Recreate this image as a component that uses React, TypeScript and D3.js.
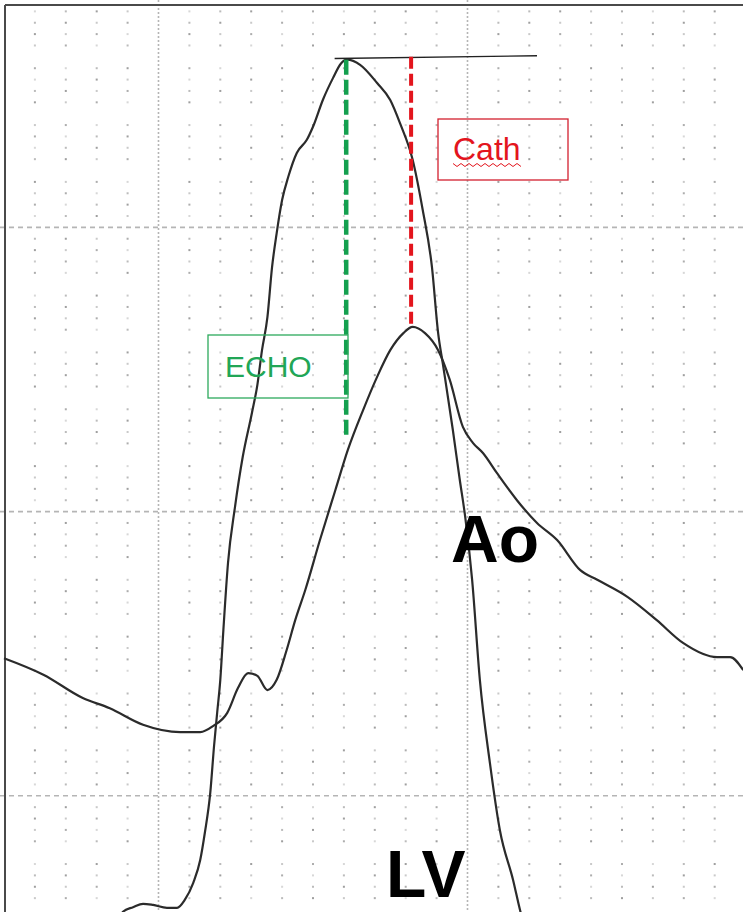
import React from "react";
import * as d3 from "d3";

// Pressure tracings: time in ms, pressure in mmHg
const lvTime = [147, 154, 167, 180, 193, 211, 224, 234, 245, 254, 260, 267, 272, 276, 280, 284, 290, 299, 309, 321, 328, 334, 341, 347, 353, 360, 368, 379, 392, 400, 413, 426, 436, 444, 461, 483, 500, 513, 529, 542, 554, 562, 568, 581, 590, 597, 606, 616, 629, 642, 659, 668, 672];
const lvPressure = [-2.2, -0.4, 0.4, 1.0, 0.8, 0.3, 0.3, 1.7, 4.7, 8.7, 13.5, 20.5, 28.9, 34.7, 40.4, 49.2, 61.0, 70.8, 79.6, 87.4, 92.3, 98.4, 104.2, 113.0, 119.0, 124.8, 128.9, 133.1, 135.4, 137.7, 142.5, 146.3, 148.8, 149.5, 148.6, 145.4, 142.4, 138.2, 131.9, 123.1, 113.0, 101.4, 96.1, 84.4, 75.6, 69.1, 58.0, 40.4, 25.8, 13.9, 5.2, -0.1, -2.2];

const aoTime = [0, 51, 102, 137, 180, 228, 254, 271, 289, 303, 316, 328, 341, 353, 366, 377, 390, 409, 429, 445, 465, 483, 500, 517, 529, 545, 562, 577, 594, 607, 620, 638, 664, 690, 716, 746, 768, 807, 845, 879, 923, 940, 957];
const aoPressure = [44.2, 41.3, 37.2, 35.4, 32.5, 31.2, 31.2, 32.3, 34.6, 39.0, 41.6, 41.1, 38.6, 40.4, 45.7, 50.9, 56.2, 65.0, 73.8, 80.8, 87.9, 93.7, 98.4, 101.4, 102.5, 101.4, 98.4, 93.2, 84.9, 82.1, 80.3, 76.8, 72.0, 68.0, 65.0, 59.7, 58.0, 55.0, 50.9, 46.9, 44.4, 44.4, 42.1];

// Peak-to-peak reference line drawn at the LV peak level
const peakLineTime = [428, 690];
const peakLinePressure = [149.7, 150.2];

// Echo: LV peak marker; Cath: aortic peak marker
const echoMarkerTime = 443;
const echoMarkerPressure = [149.5, 83.5];
const cathMarkerTime = 527;
const cathMarkerPressure = [150, 102.5];

// Paper grid
const gridColumnTimes = d3.range(40, 960, 40);
const majorTimes = [200, 600];
const majorPressures = [20, 70, 120];

const W = 743;
const H = 912;
const FONT = "Liberation Sans, Arial, sans-serif";

export default function App() {
  const x = d3.scaleLinear().domain([0, 956]).range([4, 742.5]);
  const y = d3.scaleLinear().domain([0, 160]).range([909.5, 0]);

  const line = d3
    .line<[number, number]>()
    .x((d) => x(d[0]))
    .y((d) => y(d[1]))
    .curve(d3.curveMonotoneX);

  const lvPts = lvTime.map((t, i) => [t, lvPressure[i]] as [number, number]);
  const aoPts = aoTime.map((t, i) => [t, aoPressure[i]] as [number, number]);

  // dot rows at every 2 mmHg except the 10 mmHg marks
  const dotPressures: number[] = [];
  for (let p = -4; p <= 162; p += 2) {
    if (p % 10 !== 0) dotPressures.push(p);
  }
  const dots: { cx: number; cy: number; o: number }[] = [];
  gridColumnTimes.forEach((t, i) => {
    if (majorTimes.includes(t)) return;
    dotPressures.forEach((p, j) => {
      const o = 0.35 + ((i * 7 + j * 13) % 5) * 0.12;
      dots.push({ cx: x(t), cy: y(p), o });
    });
  });

  const squiggle = d3.range(0, 18).map((k) => [453 + k * 4, k % 2 === 0 ? 163.5 : 166.5] as [number, number]);

  return (
    <svg
      width={W}
      height={H}
      style={{ position: "absolute", left: 0, top: 0, background: "#fff" }}
    >
      <rect width={W} height={H} fill="#fff" />
      {/* paper dots */}
      <g fill="#8c8c8c">
        {dots.map((d, k) => (
          <rect key={k} x={d.cx - 1} y={d.cy - 1} width={2} height={2} opacity={d.o} />
        ))}
      </g>
      {/* major grid lines */}
      <g stroke="#b5b5b5" fill="none">
        {majorTimes.map((t) => (
          <line key={t} x1={x(t)} x2={x(t)} y1={0} y2={H} strokeWidth={1.6} strokeDasharray="2 2" />
        ))}
        {majorPressures.map((p) => (
          <line key={p} x1={0} x2={W} y1={y(p)} y2={y(p)} strokeWidth={1.6} strokeDasharray="5 4" />
        ))}
      </g>
      {/* frame */}
      <line x1={5} x2={5} y1={5} y2={H} stroke="#4a4a4a" strokeWidth={2} />
      <line x1={5} x2={W} y1={5} y2={5} stroke="#4a4a4a" strokeWidth={2} />

      {/* traces */}
      <path d={line(aoPts) ?? ""} fill="none" stroke="#2b2b2b" strokeWidth={2.2} strokeLinejoin="round" />
      <path d={line(lvPts) ?? ""} fill="none" stroke="#2b2b2b" strokeWidth={2.2} strokeLinejoin="round" />

      {/* peak reference line */}
      <line
        x1={x(peakLineTime[0])}
        x2={x(peakLineTime[1])}
        y1={y(peakLinePressure[0])}
        y2={y(peakLinePressure[1])}
        stroke="#222"
        strokeWidth={1.4}
      />

      {/* markers */}
      <line
        x1={x(echoMarkerTime)}
        x2={x(echoMarkerTime)}
        y1={y(echoMarkerPressure[0])}
        y2={y(echoMarkerPressure[1])}
        stroke="#14a04f"
        strokeWidth={4.5}
        strokeDasharray="15 5"
      />
      <line
        x1={x(cathMarkerTime)}
        x2={x(cathMarkerTime)}
        y1={y(cathMarkerPressure[0])}
        y2={y(cathMarkerPressure[1])}
        stroke="#e3151d"
        strokeWidth={4}
        strokeDasharray="12 5"
      />

      {/* annotation boxes */}
      <rect x={208} y={335} width={140} height={63} fill="none" stroke="#2daa5c" strokeWidth={1.3} />
      <text x={225} y={377} fill="#21a656" fontFamily={FONT} fontSize={30}>
        ECHO
      </text>
      <rect x={438} y={119} width={130} height={61} fill="none" stroke="#d3202e" strokeWidth={1.3} />
      <text x={453} y={160} fill="#e3151d" fontFamily={FONT} fontSize={32}>
        Cath
      </text>
      <path d={d3.line()(squiggle) ?? ""} fill="none" stroke="#e3151d" strokeWidth={1} />

      {/* trace labels */}
      <text x={451} y={562} fill="#000" fontFamily={FONT} fontWeight="bold" fontSize={66}>
        Ao
      </text>
      <text x={386} y={897} fill="#000" fontFamily={FONT} fontWeight="bold" fontSize={66}>
        LV
      </text>
    </svg>
  );
}
